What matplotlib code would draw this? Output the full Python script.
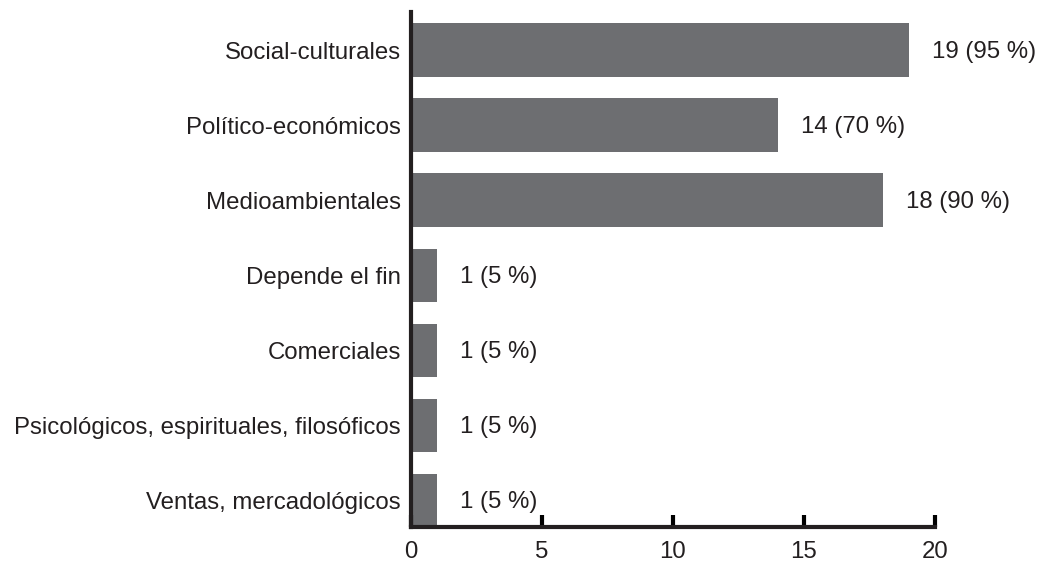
import matplotlib.pyplot as plt

plt.rcParams['font.family'] = ['Liberation Sans', 'DejaVu Sans']

categories = [
    "Social-culturales",
    "Político-económicos",
    "Medioambientales",
    "Depende el fin",
    "Comerciales",
    "Psicológicos, espirituales, filosóficos",
    "Ventas, mercadológicos",
]
counts = [19, 14, 18, 1, 1, 1, 1]
percents = [95, 70, 90, 5, 5, 5, 5]

fs = 17.3

fig = plt.figure(figsize=(10.4, 5.65), dpi=100)
ax = fig.add_axes([0.395, 0.067, 0.504, 0.912])

n = len(categories)
ypos = [n - 1 - i for i in range(n)]
ax.barh(ypos, counts, height=0.71, color="#6d6e71")

for y, c, p in zip(ypos, counts, percents):
    ax.text(c + 0.88, y - 0.03, f"{c} ({p} %)", va="center", ha="left", fontsize=fs,
            color="#231f20")

ax.set_xlim(0, 20)
ax.set_ylim(-0.36, n - 1 + 0.51)
ax.set_yticks(ypos)
ax.set_yticklabels(categories, fontsize=fs, color="#231f20")
ax.set_xticks([0, 5, 10, 15, 20])
ax.tick_params(axis="x", direction="in", length=9, width=3, labelsize=fs, pad=10,
               labelcolor="#231f20")
ax.tick_params(axis="y", length=0, pad=7)

for side in ("top", "right"):
    ax.spines[side].set_visible(False)
for side in ("left", "bottom"):
    ax.spines[side].set_linewidth(3)
    ax.spines[side].set_color("#231f20")

fig.savefig("out.png", dpi=100)
